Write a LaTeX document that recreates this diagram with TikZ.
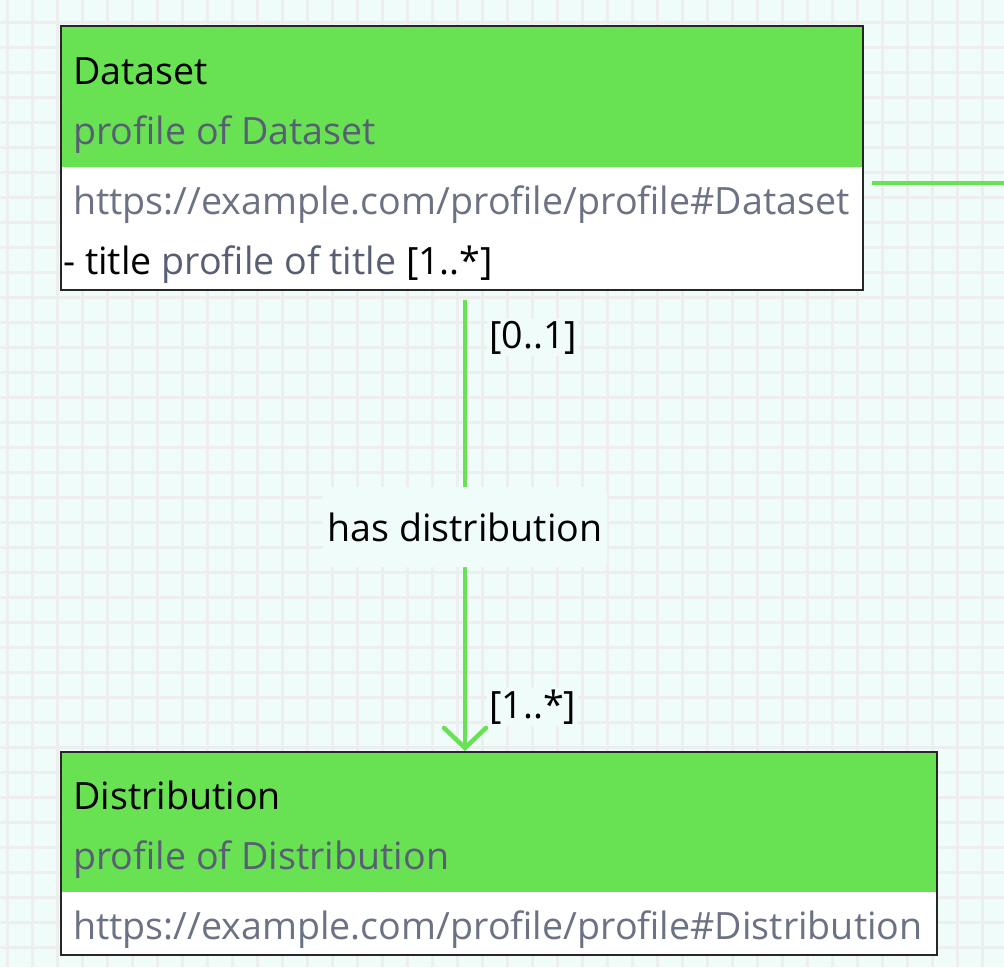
\documentclass[tikz,border=0pt]{standalone}
\usepackage{fontspec}
\setmainfont{Open Sans}
\usetikzlibrary{arrows.meta}
\definecolor{bgmint}{HTML}{F0FCFA}
\definecolor{gridc}{HTML}{EFEEEE}
\definecolor{umlgreen}{HTML}{68E253}
\definecolor{subgray}{HTML}{585F72}
\definecolor{urlgray}{HTML}{6B7283}
\tikzset{
  txt/.style={anchor=base west, inner sep=0pt, font=\fontsize{37.6}{44}\selectfont},
  head/.style={draw=none, fill=umlgreen, anchor=north west, inner sep=0pt},
  body/.style={draw=none, fill=white, anchor=north west, inner sep=0pt},
  frame/.style={draw=black!85, line width=2pt, anchor=north west, inner sep=0pt},
  conn/.style={draw=umlgreen, line width=4.5pt},
  lbl/.style={fill=bgmint, inner sep=4pt, rounded corners=6pt, font=\fontsize{37.6}{44}\selectfont},
}
\begin{document}
\begin{tikzpicture}[x=1pt,y=-1pt]
\useasboundingbox (0,0) rectangle (1004,967);
\fill[bgmint] (0,0) rectangle (1004,967);
\foreach \i in {0,...,40} {
  \draw[gridc, line width=3pt] ({7+25*\i},0) -- ({7+25*\i},967);
  \draw[gridc, line width=3pt] (0,{-3+25*\i}) -- (1004,{-3+25*\i});
}
% Dataset
\node[head, minimum width=802pt, minimum height=142pt] (dsh) at (60,25) {};
\node[body, minimum width=802pt, minimum height=122pt] (dsb) at (60,167) {};
\node[frame, minimum width=802pt, minimum height=264pt] (ds) at (60,25) {};
\node[txt] (dst) at (73,84) {Dataset};
\node[txt, text=subgray] (dsp) at (73,144) {profile of Dataset};
\node[txt, text=urlgray] (dsu) at (73,214) {https://example.com/profile/profile\#Dataset};
\node[txt] (dsa) at (63,274) {- title \textcolor{subgray}{profile of title} [1..*]};
% Distribution
\node[head, minimum width=876pt, minimum height=141pt] (dih) at (60,751) {};
\node[body, minimum width=876pt, minimum height=62pt] (dib) at (60,892) {};
\node[frame, minimum width=876pt, minimum height=203pt] (di) at (60,751) {};
\node[txt] (dit) at (73,809) {Distribution};
\node[txt, text=subgray] (dip) at (73,869) {profile of Distribution};
\node[txt, text=urlgray] (diu) at (73,939) {https://example.com/profile/profile\#Distribution};
% connectors
\coordinate (c1) at (465,300);
\coordinate (c2) at (465,751);
\draw[conn, -{Straight Barb[length=20pt,width=42pt,line cap=round]}] (c1) -- (c2);
\coordinate (h1) at (872,183);
\coordinate (h2) at (1004,183);
\draw[conn] (h1) -- (h2);
\node[lbl, minimum width=284pt, minimum height=80pt] (rel) at (465,527) {has distribution};
\node[lbl, anchor=base west, inner sep=2pt] (m1) at (487,348) {[0..1]};
\node[lbl, anchor=base west, inner sep=2pt] (m2) at (487,718) {[1..*]};
\end{tikzpicture}
\end{document}
